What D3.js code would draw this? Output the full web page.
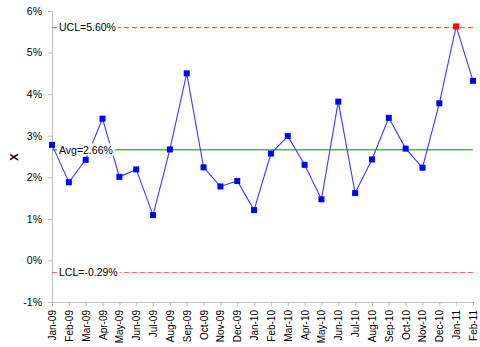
<!DOCTYPE html>
<html><head><meta charset="utf-8">
<script src="https://cdn.jsdelivr.net/npm/d3@7"></script>
<style>body{margin:0;background:#fff}svg{display:block}</style>
</head><body><svg id="c" width="480" height="347"></svg>
<script>
const categories = ["Jan-09","Feb-09","Mar-09","Apr-09","May-09","Jun-09","Jul-09","Aug-09","Sep-09","Oct-09","Nov-09","Dec-09","Jan-10","Feb-10","Mar-10","Apr-10","May-10","Jun-10","Jul-10","Aug-10","Sep-10","Oct-10","Nov-10","Dec-10","Jan-11","Feb-11"];
const values = [2.78,1.88,2.42,3.41,2.01,2.19,1.09,2.67,4.50,2.24,1.78,1.91,1.21,2.57,2.99,2.30,1.47,3.82,1.62,2.43,3.43,2.69,2.23,3.78,5.63,4.32];
const avg = 2.66, ucl = 5.60, lcl = -0.29;
const yTicks = [-1,0,1,2,3,4,5,6];

const svg = d3.select("#c");
const x = d3.scalePoint().domain(categories).range([52, 473]);
const y = d3.scaleLinear().domain([-1, 6]).range([302, 11]);
const font = "'Liberation Sans', Arial, sans-serif";

// axes
const yAxis = svg.append("g").attr("transform","translate(52,0)")
  .call(d3.axisLeft(y).tickValues(yTicks).tickFormat(d => d + "%").tickSizeOuter(0).tickSize(4));
const xAxis = svg.append("g").attr("transform","translate(0,302)")
  .call(d3.axisBottom(x).tickSizeOuter(0).tickSize(4));
[yAxis, xAxis].forEach(a => {
  a.select(".domain").attr("stroke","#bfbfbf");
  a.selectAll(".tick line").attr("stroke","#bfbfbf");
  a.selectAll("text").attr("fill","#000").style("font-family",font).style("font-size","10.5px");
});
yAxis.selectAll("text").attr("x",-10);
xAxis.selectAll("text").attr("transform","rotate(-90)").attr("text-anchor","end")
  .attr("x",-8).attr("y",0).attr("dy","0.35em").style("font-size","10px");

// axis title
svg.append("text").attr("transform","translate(18,157) rotate(-90)").attr("text-anchor","middle")
  .style("font-family",font).style("font-size","11px").style("font-weight","bold").text("X");

// control lines
const lines = [{v:ucl, c:"#ff5b5b", dash:"5,3", w:1.2}, {v:lcl, c:"#ff5b5b", dash:"5,3", w:1.2}, {v:avg, c:"#5cb04a", dash:null, w:1.5}];
lines.forEach(l => {
  svg.append("line").attr("x1",52).attr("x2",473).attr("y1",y(l.v)).attr("y2",y(l.v))
    .attr("stroke",l.c).attr("stroke-width",l.w).attr("stroke-dasharray",l.dash);
});

// data line
const data = categories.map((c,i)=>({c, v: values[i]}));
svg.append("path").datum(data).attr("fill","none").attr("stroke","#3a3aff").attr("stroke-width",1.1)
  .attr("d", d3.line().x(d=>x(d.c)).y(d=>y(d.v)));
svg.selectAll("rect.pt").data(data).enter().append("rect").attr("class","pt")
  .attr("x",d=>x(d.c)-3).attr("y",d=>y(d.v)-3).attr("width",6).attr("height",6)
  .attr("fill",d=> d.v > ucl || d.v < lcl ? "#ff0000" : "#0000ff");

// labels
const labels = [{t:"UCL=" + ucl.toFixed(2) + "%", v:ucl},{t:"Avg=" + avg.toFixed(2) + "%", v:avg},{t:"LCL=" + lcl.toFixed(2) + "%", v:lcl}];
labels.forEach(l => {
  const g = svg.append("g");
  const txt = g.append("text").attr("x",59).attr("y",y(l.v)).attr("dy","0.35em")
    .style("font-family",font).style("font-size","10.5px").attr("fill","#000").text(l.t);
  const bb = txt.node().getBBox();
  g.insert("rect","text").attr("x",bb.x-2).attr("y",bb.y).attr("width",bb.width+4).attr("height",bb.height).attr("fill","#fff");
});
</script></body></html>
